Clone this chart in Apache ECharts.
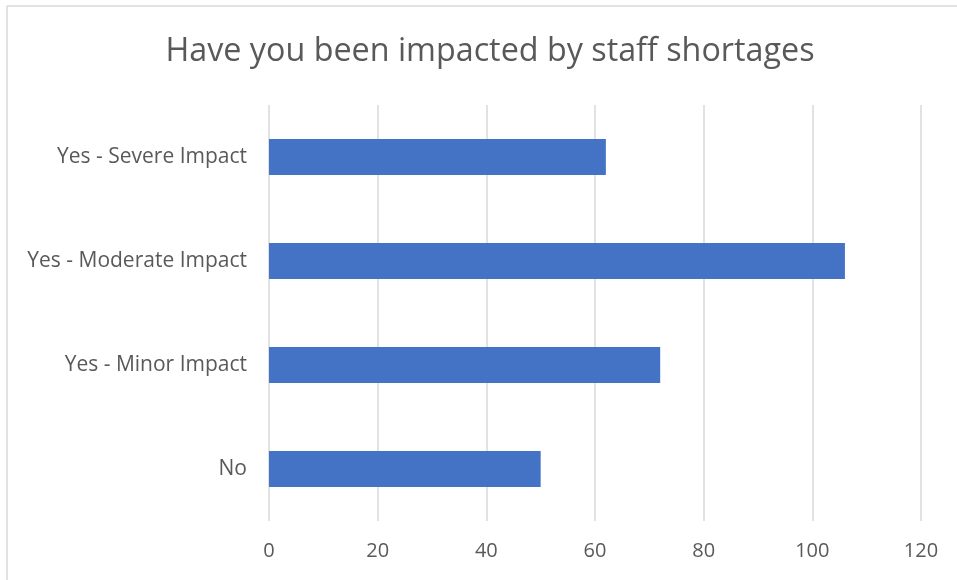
<!DOCTYPE html>
<html>
<head>
<meta charset="utf-8">
<script src="https://cdn.jsdelivr.net/npm/echarts@6/dist/echarts.min.js"></script>
<style>html,body{margin:0;padding:0;background:#fff}#c{width:957px;height:580px}</style>
</head>
<body>
<div id="c"></div>
<script>
const chartTitle = 'Have you been impacted by staff shortages';
const categories = ['No', 'Yes - Minor Impact', 'Yes - Moderate Impact', 'Yes - Severe Impact'];
const values = [50, 72, 106, 62];
const axisMin = 0, axisMax = 120, axisStep = 20;

const chart = echarts.init(document.getElementById('c'), null, {renderer: 'canvas'});
const textColor = '#595959';
const font = '"Open Sans", "Noto Sans", sans-serif';
chart.setOption({
  animation: false,
  backgroundColor: '#ffffff',
  title: {
    text: chartTitle,
    left: 485,
    textAlign: 'center',
    top: 31,
    textStyle: {color: textColor, fontFamily: font, fontSize: 32.3, fontWeight: 'normal'}
  },
  graphic: [
    {type: 'line', shape: {x1: 7, y1: 6, x2: 957, y2: 6}, style: {stroke: '#d9d9d9', lineWidth: 1.5}},
    {type: 'line', shape: {x1: 7, y1: 6, x2: 7, y2: 580}, style: {stroke: '#d9d9d9', lineWidth: 1.5}}
  ],
  grid: {left: 269, right: 36, top: 105, bottom: 59, containLabel: false},
  xAxis: {
    type: 'value', min: axisMin, max: axisMax, interval: axisStep,
    axisLine: {show: false}, axisTick: {show: false},
    splitLine: {show: true, lineStyle: {color: '#d9d9d9', width: 1.5}},
    axisLabel: {color: textColor, fontFamily: font, fontSize: 20, margin: 20}
  },
  yAxis: {
    type: 'category', data: categories,
    axisLine: {show: false}, axisTick: {show: false},
    splitLine: {show: false},
    axisLabel: {color: textColor, fontFamily: font, fontSize: 21, margin: 22}
  },
  series: [{
    type: 'bar', data: values, barWidth: 36,
    itemStyle: {color: '#4472C4'}
  }]
});
</script>
</body>
</html>
